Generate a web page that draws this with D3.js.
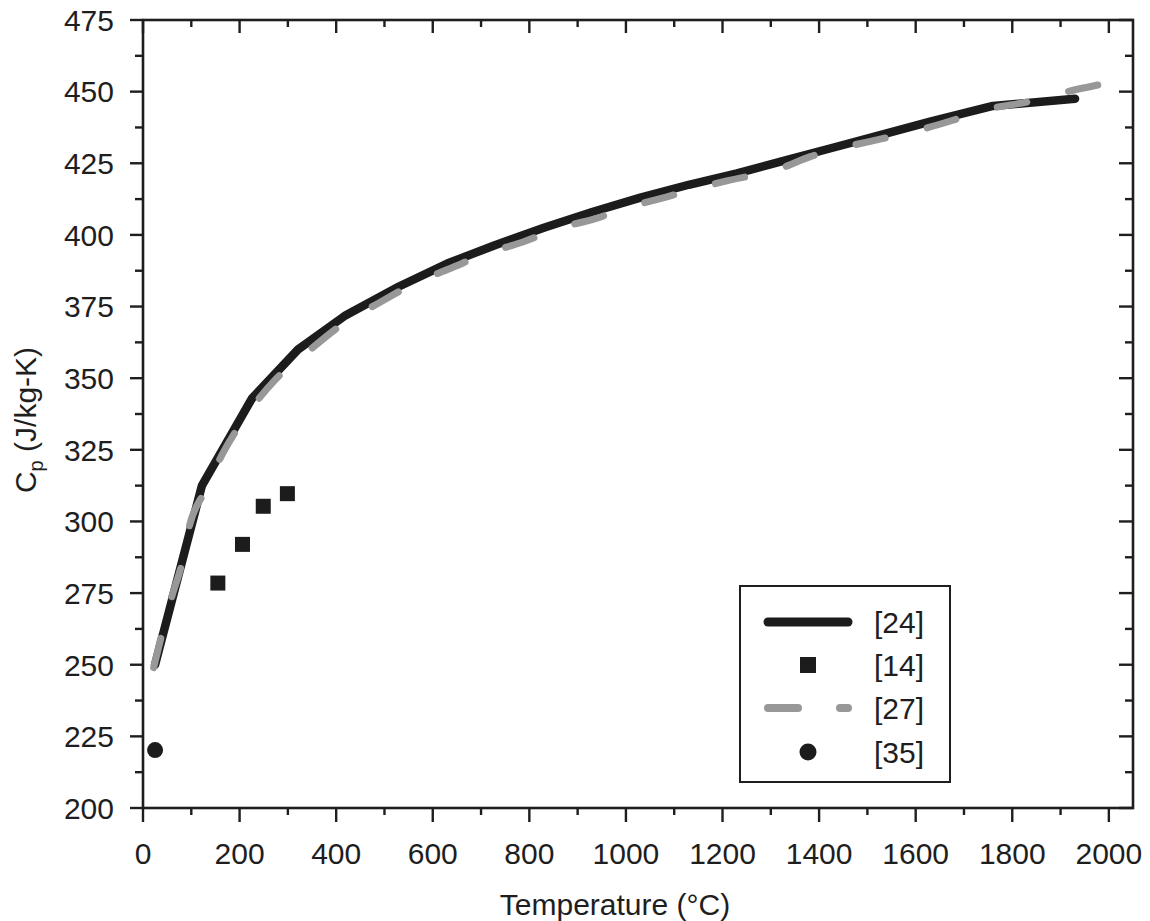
<!DOCTYPE html>
<html>
<head>
<meta charset="utf-8">
<script src="https://cdn.jsdelivr.net/npm/d3@7"></script>
<style>
  html, body { margin: 0; padding: 0; background: #fff; }
  svg { display: block; }
  text { font-family: "Liberation Sans", Arial, Helvetica, sans-serif; fill: #1e1e1e; }
</style>
</head>
<body>
<svg id="chart" width="1150" height="921"></svg>
<script>
// ---- Data ----
const xTicks = [0, 200, 400, 600, 800, 1000, 1200, 1400, 1600, 1800, 2000];
const yTicks = [200, 225, 250, 275, 300, 325, 350, 375, 400, 425, 450, 475];

// [24] solid black line
const ref24T  = [25, 122, 226, 321, 420, 530, 630, 730, 830, 930, 1030, 1130, 1230, 1330, 1430, 1530, 1630, 1760, 1930];
const ref24Cp = [250, 312.5, 343, 360, 372, 382, 390, 396.5, 402.5, 408, 413, 417.5, 421.5, 426, 430.5, 435, 439.5, 445, 447.5];

// [14] squares
const ref14T  = [155, 206, 249, 299];
const ref14Cp = [278.5, 292, 305.3, 309.7];

// [27] gray dashed line
const ref27T  = [22, 60, 80, 97, 128, 166, 208, 274, 336, 419, 491, 567, 636, 712, 788, 861, 937, 1009, 1085, 1200, 1320, 1382, 1458, 1531, 1607, 1679, 1755, 1831, 1904, 1977];
const ref27Cp = [249, 274, 285, 299, 310.5, 324, 335.5, 349.5, 358.5, 369.5, 376.5, 383.5, 388.3, 393.6, 397.6, 402.3, 405.7, 409.8, 413.3, 418.5, 423.2, 427.3, 430.8, 433.6, 436.6, 440.1, 444.1, 446.4, 449.6, 452.3];

// [35] circle
const ref35T  = [25];
const ref35Cp = [220.2];

const legendLabels = ["[24]", "[14]", "[27]", "[35]"];

// ---- Layout ----
const svg = d3.select("#chart");
const pL = 143, pR = 1133, pT = 20, pB = 808;
const x = d3.scaleLinear().domain([0, 2050]).range([pL, pR]);
const y = d3.scaleLinear().domain([200, 475]).range([pB, pT]);
const ink = "#1e1e1e";

// Data marks
const line = d3.line().x(d => x(d[0])).y(d => y(d[1]));

svg.append("path")
  .datum(ref24T.map((t, i) => [t, ref24Cp[i]]))
  .attr("d", line)
  .attr("fill", "none")
  .attr("stroke", "#1c1c1c")
  .attr("stroke-width", 8.5)
  .attr("stroke-linejoin", "round")
  .attr("stroke-linecap", "round");

const dash = 30;
const grayPath = svg.append("path")
  .datum(ref27T.map((t, i) => [t, ref27Cp[i]]))
  .attr("d", d3.line().curve(d3.curveMonotoneX).x(d => x(d[0])).y(d => y(d[1])))
  .attr("fill", "none")
  .attr("stroke", "#989898")
  .attr("stroke-width", 7)
  .attr("stroke-linecap", "round");
// fit the dash pattern so that both ends of the line are dashes, as in the reference
const L = grayPath.node().getTotalLength();
const n = Math.round((L - dash) / 72);
const gap = (L - dash) / n - dash;
grayPath.attr("stroke-dasharray", dash + " " + gap);

svg.selectAll("rect.sq")
  .data(ref14T.map((t, i) => [t, ref14Cp[i]]))
  .enter().append("rect")
  .attr("class", "sq")
  .attr("x", d => x(d[0]) - 7.5)
  .attr("y", d => y(d[1]) - 7.5)
  .attr("width", 15).attr("height", 15)
  .attr("fill", "#1c1c1c");

svg.selectAll("circle.pt")
  .data(ref35T.map((t, i) => [t, ref35Cp[i]]))
  .enter().append("circle")
  .attr("class", "pt")
  .attr("cx", d => x(d[0]))
  .attr("cy", d => y(d[1]))
  .attr("r", 8)
  .attr("fill", "#1c1c1c");

// Axes frame
const frame = svg.append("g");
frame.append("rect")
  .attr("x", pL).attr("y", pT)
  .attr("width", pR - pL).attr("height", pB - pT)
  .attr("fill", "none").attr("stroke", ink).attr("stroke-width", 2.6);

// Minor ticks
const xMinor = d3.range(100, 2050, 200);
const yMinor = d3.range(212.5, 475, 25);

const tickG = svg.append("g").attr("stroke", ink).attr("stroke-width", 2.4);
xTicks.forEach(v => {
  tickG.append("line").attr("x1", x(v)).attr("x2", x(v)).attr("y1", pB).attr("y2", pB + 14);
  tickG.append("line").attr("x1", x(v)).attr("x2", x(v)).attr("y1", pT).attr("y2", pT + 13);
});
xMinor.forEach(v => {
  tickG.append("line").attr("x1", x(v)).attr("x2", x(v)).attr("y1", pB).attr("y2", pB + 7);
  tickG.append("line").attr("x1", x(v)).attr("x2", x(v)).attr("y1", pT).attr("y2", pT + 7);
});
yTicks.forEach(v => {
  tickG.append("line").attr("x1", pL - 13).attr("x2", pL).attr("y1", y(v)).attr("y2", y(v));
  tickG.append("line").attr("x1", pR - 14).attr("x2", pR).attr("y1", y(v)).attr("y2", y(v));
});
yMinor.forEach(v => {
  tickG.append("line").attr("x1", pL - 8).attr("x2", pL).attr("y1", y(v)).attr("y2", y(v));
  tickG.append("line").attr("x1", pR - 8).attr("x2", pR).attr("y1", y(v)).attr("y2", y(v));
});

// Tick labels
svg.append("g").selectAll("text")
  .data(xTicks).enter().append("text")
  .attr("x", d => x(d)).attr("y", 864)
  .attr("text-anchor", "middle")
  .attr("font-size", 30)
  .text(d => d);

svg.append("g").selectAll("text")
  .data(yTicks).enter().append("text")
  .attr("x", 114).attr("y", d => y(d))
  .attr("dy", "0.36em")
  .attr("text-anchor", "end")
  .attr("font-size", 30)
  .text(d => d);

// Axis titles
svg.append("text")
  .attr("x", 615).attr("y", 915)
  .attr("text-anchor", "middle")
  .attr("font-size", 30)
  .text("Temperature (°C)");

const yt = svg.append("text")
  .attr("transform", "translate(36,420) rotate(-90)")
  .attr("text-anchor", "middle")
  .attr("font-size", 30);
yt.append("tspan").text("C");
yt.append("tspan").attr("font-size", 20).attr("dy", 7).text("p");
yt.append("tspan").attr("dy", -7).text(" (J/kg-K)");

// Legend
const lg = svg.append("g");
lg.append("rect")
  .attr("x", 740).attr("y", 586).attr("width", 210).attr("height", 196)
  .attr("fill", "#fff").attr("stroke", ink).attr("stroke-width", 2);

const rowsY = [622, 665, 708, 752];
lg.append("line").attr("x1", 768).attr("x2", 848).attr("y1", rowsY[0]).attr("y2", rowsY[0])
  .attr("stroke", "#1c1c1c").attr("stroke-width", 9).attr("stroke-linecap", "round");
lg.append("rect").attr("x", 808 - 8).attr("y", rowsY[1] - 8).attr("width", 16).attr("height", 16).attr("fill", "#1c1c1c");
lg.append("line").attr("x1", 768).attr("x2", 848).attr("y1", rowsY[2]).attr("y2", rowsY[2])
  .attr("stroke", "#989898").attr("stroke-width", 8).attr("stroke-linecap", "round")
  .attr("stroke-dasharray", "30 42");
lg.append("circle").attr("cx", 808).attr("cy", rowsY[3]).attr("r", 8.5).attr("fill", "#1c1c1c");

lg.selectAll("text.lab").data(legendLabels).enter().append("text")
  .attr("class", "lab")
  .attr("x", 874).attr("y", (d, i) => rowsY[i])
  .attr("dy", "0.36em")
  .attr("font-size", 30)
  .text(d => d);
</script>
</body>
</html>
